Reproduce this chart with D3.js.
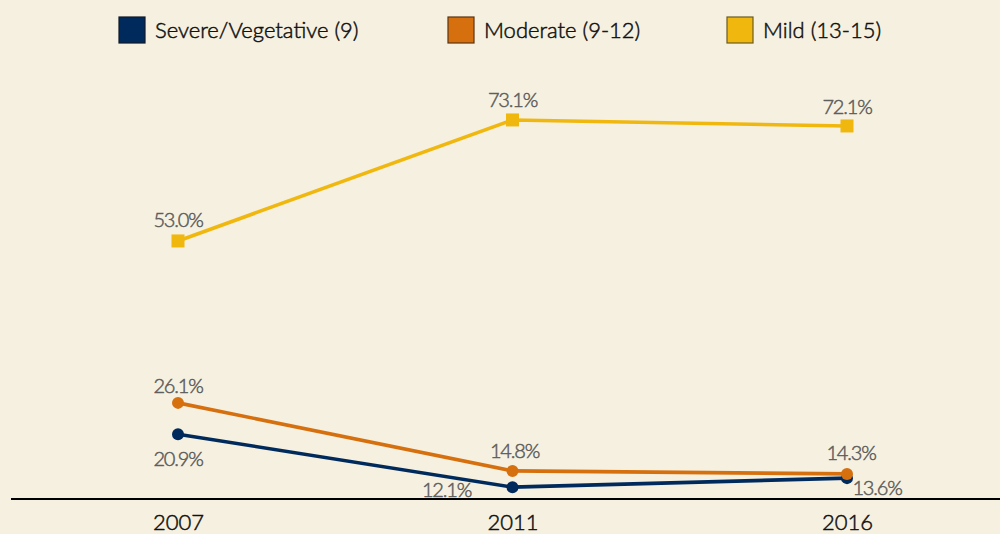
<!DOCTYPE html>
<html><head><meta charset="utf-8">
<script src="https://cdn.jsdelivr.net/npm/d3@7"></script>
<style>body{margin:0;background:#f5f0df;}svg{display:block;}</style>
</head><body>
<svg id="c" width="1000" height="534"></svg>
<script>
const years = ["2007", "2011", "2016"];
const severe = [20.9, 12.1, 13.6];
const moderate = [26.1, 14.8, 14.3];
const mild = [53.0, 73.1, 72.1];
const seriesNames = ["Severe/Vegetative (9)", "Moderate (9-12)", "Mild (13-15)"];
const colors = ["#002a5c", "#d6700f", "#f0b80f"];
const borders = ["#111a2a", "#5a3310", "#6a5a20"];

const svg = d3.select("#c");
svg.append("rect").attr("width",1000).attr("height",534).attr("fill","#f5f0df");

const x = d3.scalePoint().domain(years).range([178, 847]);
const y = d3.scaleLinear().domain([10, 80]).range([499.8, 78.4]);

const font = "Lato, 'Open Sans', sans-serif";

// axis
const ax = svg.append("g").attr("transform","translate(0,499)")
  .call(d3.axisBottom(x).tickSize(0).tickPadding(24));
ax.select(".domain").remove();
svg.append("line").attr("x1",11).attr("x2",1000).attr("y1",499).attr("y2",499)
  .attr("stroke","#000").attr("stroke-width",2);
ax.selectAll("text").attr("font-family",font).attr("font-size",22).attr("font-weight",300)
  .attr("fill","#111").attr("stroke","#111").attr("stroke-width",0.5).attr("dy","0.3em");

const series = [
  {vals: severe, c: colors[0], shape: "circle",
   lab: [{dx:0,dy:32},{dx:-66,dy:10},{dx:30,dy:17}]},
  {vals: moderate, c: colors[1], shape: "circle",
   lab: [{dx:0,dy:-10},{dx:2,dy:-13},{dx:4,dy:-14}]},
  {vals: mild, c: colors[2], shape: "square",
   lab: [{dx:0,dy:-14},{dx:0,dy:-13},{dx:0,dy:-12}]}
];

const line = d3.line().x((d,i)=>x(years[i])).y(d=>y(d));

series.forEach(s=>{
  svg.append("path").attr("d", line(s.vals)).attr("fill","none")
    .attr("stroke", s.c).attr("stroke-width",3.6);
});
series.forEach(s=>{
  s.vals.forEach((v,i)=>{
    if (s.shape==="circle") {
      svg.append("circle").attr("cx",x(years[i])).attr("cy",y(v)).attr("r",6).attr("fill",s.c);
    } else {
      svg.append("rect").attr("x",x(years[i])-6.5).attr("y",y(v)-6.5).attr("width",13).attr("height",13).attr("fill",s.c);
    }
    const l = s.lab[i];
    svg.append("text").attr("x",x(years[i])+l.dx).attr("y",y(v)+l.dy)
      .attr("text-anchor","middle").attr("font-family",font).attr("font-size",20)
      .attr("font-weight",300).attr("fill","#5e5e5e").attr("stroke","#5e5e5e")
      .attr("stroke-width",0.5).attr("letter-spacing","-1.2")
      .text(v.toFixed(1)+"%");
  });
});

// legend
const legX = [119, 448, 727];
seriesNames.forEach((n,i)=>{
  svg.append("rect").attr("x",legX[i]).attr("y",17).attr("width",26).attr("height",26)
    .attr("fill",colors[i]).attr("stroke",borders[i]).attr("stroke-width",1.2);
  svg.append("text").attr("x",legX[i]+36).attr("y",30).attr("dy","0.35em")
    .attr("font-family",font).attr("font-size",22).attr("font-weight",300)
    .attr("fill","#111").attr("stroke","#111").attr("stroke-width",0.5).text(n);
});
</script>
</body></html>
